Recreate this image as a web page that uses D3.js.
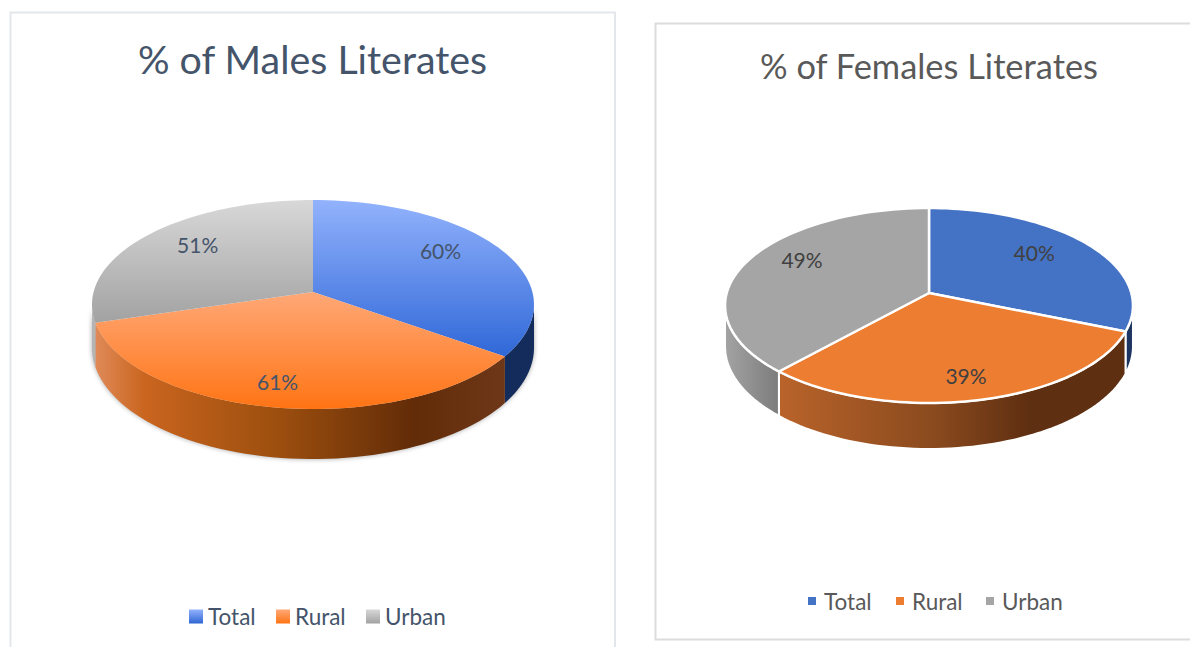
<!DOCTYPE html>
<html>
<head>
<meta charset="utf-8">
<script src="https://cdn.jsdelivr.net/npm/d3@7"></script>
<style>
  html, body { margin: 0; padding: 0; background: #fff; overflow: hidden; }
  text { font-family: Lato, "Open Sans", sans-serif; }
</style>
</head>
<body>
<svg id="chart" width="1190" height="647"></svg>
<script>
const categories = ["Total", "Rural", "Urban"];
const maleValues = [60, 61, 51];
const femaleValues = [40, 39, 49];

const svg = d3.select("#chart");
const defs = svg.append("defs");

defs.append("filter").attr("id", "wallShadow")
  .attr("x", "-5%").attr("y", "-5%").attr("width", "110%").attr("height", "115%")
  .append("feGaussianBlur").attr("stdDeviation", 2.5);

function addGradient(id, horizontal, stops) {
  const g = defs.append("linearGradient").attr("id", id)
    .attr("x1", 0).attr("y1", 0)
    .attr("x2", horizontal ? 1 : 0).attr("y2", horizontal ? 0 : 1);
  stops.forEach(s => g.append("stop").attr("offset", s[0]).attr("stop-color", s[1]));
  return "url(#" + id + ")";
}

// male pie is shaded, female pie is flat
const maleTop = [
  addGradient("mTop0", false, [[0, "#92b2fc"], [1, "#3068d8"]]),
  addGradient("mTop1", false, [[0, "#ffa877"], [1, "#ff7414"]]),
  addGradient("mTop2", false, [[0, "#d8d8d8"], [1, "#a2a2a2"]])
];
const maleWall = [
  "#132c5c",
  addGradient("mWall1", true, [[0, "#e08a58"], [0.12, "#c9651f"], [0.45, "#9c4e0e"], [0.78, "#622c08"], [1, "#6e3718"]]),
  "#b4b4b4"
];
const maleSwatch = [
  addGradient("mKey0", false, [[0, "#92b2fc"], [1, "#2f66d4"]]),
  addGradient("mKey1", false, [[0, "#ffa877"], [1, "#ff7414"]]),
  addGradient("mKey2", false, [[0, "#d8d8d8"], [1, "#a2a2a2"]])
];
const femaleTop = ["#4472c4", "#ed7d31", "#a5a5a5"];
const femaleWall = [
  "#1d3560",
  addGradient("fWall1", true, [[0, "#b9632a"], [0.45, "#8a4a1e"], [0.72, "#5f2f11"], [1, "#5f2f11"]]),
  addGradient("fWall2", true, [[0, "#a3a3a3"], [1, "#7c7c7c"]])
];

const charts = [
  {
    title: "% of Males Literates", values: maleValues,
    frame: [10.5, 12.5, 604.5, 640], frameColor: "#e3e7ec",
    titleX: 312.5, titleY: 73.5, titleSize: 39.4, titleColor: "#44546a",
    cx: 313, cy: 292, rx: 219.4, ry: 103, k: 0.12, depthFront: 50, depthSide: 42,
    top: maleTop, wall: maleWall, sep: null, shadow: true,
    labelColor: "#44546a", labelSize: 21, nudge: [[-4, -10], [-8, 12], [2, -7]],
    keyFill: maleSwatch, keySize: 14, keyY: 616.5, keyXs: [189, 276, 366], keyGap: 5, keyFont: 22.5, keyColor: "#44546a"
  },
  {
    title: "% of Females Literates", values: femaleValues,
    frame: [655.5, 23.5, 560, 616], frameColor: "#dcdcdc",
    titleX: 929, titleY: 79, titleSize: 34.4, titleColor: "#595959",
    cx: 929, cy: 293, rx: 202.3, ry: 95.9, k: 0.128, depthFront: 46, depthSide: 40,
    top: femaleTop, wall: femaleWall, sep: "#fff", shadow: false,
    labelColor: "#404040", labelSize: 21, nudge: [[-7, -5], [3, 11], [1, -10]],
    keyFill: femaleTop, keySize: 8, keyY: 601, keyXs: [808, 896, 986], keyGap: 8, keyFont: 22.5, keyColor: "#595959"
  }
];

const pie = d3.pie().sort(null);

// tilted disc: circle coords go through a small perspective so the near side is bigger
function project(c, angle, r, drop) {
  const u = r * Math.sin(angle), v = r * Math.cos(angle);
  const den = 1 + c.k * v;
  return [c.cx + c.rx * u / den, c.cy - c.ry * v / den + (drop ? c.depthSide - (c.depthFront - c.depthSide) * v : 0)];
}

const line = d3.line();

function rimPoints(c, a0, a1, drop) {
  return d3.range(0, 61).map(i => project(c, a0 + (a1 - a0) * i / 60, 1, drop));
}

function drawPie(c) {
  const g = svg.append("g");
  const slices = pie(c.values);
  // rim is only visible between its widest points
  const wallStart = Math.PI - Math.acos(c.k);
  const wallEnd = Math.PI + Math.acos(c.k);

  const walls = slices.map((s, i) => {
    const a0 = Math.max(s.startAngle, wallStart), a1 = Math.min(s.endAngle, wallEnd);
    if (a1 <= a0) return null;
    return { i, d: line(rimPoints(c, a0, a1, false).concat(rimPoints(c, a1, a0, true))) + "Z" };
  }).filter(Boolean);

  if (c.shadow) {
    g.append("path")
      .attr("d", line(rimPoints(c, wallStart, wallEnd, true).concat(rimPoints(c, wallEnd, wallStart, false))) + "Z")
      .attr("fill", "#000").attr("opacity", 0.35).attr("filter", "url(#wallShadow)");
  }

  g.selectAll(".wall").data(walls).join("path")
    .attr("class", "wall")
    .attr("d", d => d.d)
    .attr("fill", d => c.wall[d.i])
    .attr("stroke", c.sep || "none")
    .attr("stroke-width", c.sep ? 2 : 0);

  g.selectAll(".top").data(slices).join("path")
    .attr("class", "top")
    .attr("d", s => line([[c.cx, c.cy]].concat(rimPoints(c, s.startAngle, s.endAngle, false))) + "Z")
    .attr("fill", (s, i) => c.top[i])
    .attr("stroke", c.sep || "none")
    .attr("stroke-width", c.sep ? 2.5 : 0)
    .attr("stroke-linejoin", "round");

  g.selectAll(".lab").data(slices).join("text")
    .attr("class", "lab")
    .attr("x", (s, i) => project(c, (s.startAngle + s.endAngle) / 2, 0.7, false)[0] + c.nudge[i][0])
    .attr("y", (s, i) => project(c, (s.startAngle + s.endAngle) / 2, 0.7, false)[1] + c.nudge[i][1])
    .attr("text-anchor", "middle")
    .attr("dominant-baseline", "central")
    .attr("font-size", c.labelSize)
    .attr("fill", c.labelColor)
    .text(s => s.data + "%");
}

charts.forEach(c => {
  svg.append("rect")
    .attr("x", c.frame[0]).attr("y", c.frame[1])
    .attr("width", c.frame[2]).attr("height", c.frame[3])
    .attr("fill", "#fff").attr("stroke", c.frameColor).attr("stroke-width", 2);

  svg.append("text")
    .attr("x", c.titleX).attr("y", c.titleY)
    .attr("text-anchor", "middle")
    .attr("font-size", c.titleSize)
    .attr("fill", c.titleColor)
    .text(c.title);

  drawPie(c);

  categories.forEach((name, i) => {
    svg.append("rect")
      .attr("x", c.keyXs[i]).attr("y", c.keyY - c.keySize / 2)
      .attr("width", c.keySize).attr("height", c.keySize)
      .attr("fill", c.keyFill[i]);
    svg.append("text")
      .attr("x", c.keyXs[i] + c.keySize + c.keyGap).attr("y", c.keyY)
      .attr("dominant-baseline", "central")
      .attr("font-size", c.keyFont)
      .attr("fill", c.keyColor)
      .text(name);
  });
});
</script>
</body>
</html>
